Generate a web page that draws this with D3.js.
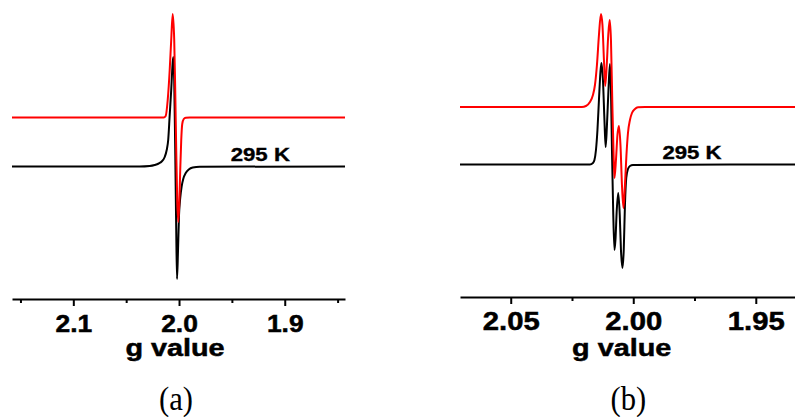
<!DOCTYPE html>
<html><head><meta charset="utf-8">
<script src="https://cdn.jsdelivr.net/npm/d3@7"></script>
<style>html,body{margin:0;padding:0;background:#fff;} svg{display:block;background:#fff;}</style>
</head><body>
<svg id="chart" width="795" height="417"></svg>
<script>
// ---------- Panel (a): g value vs first-derivative EPR intensity (a.u.) ----------
const gBlackA = [2.158, 2.03725, 2.02777, 2.02303, 2.01924, 2.01640, 2.01355, 2.01166, 2.01024, 2.00882, 2.00739, 2.00645, 2.00550, 2.00455, 2.00360, 2.00265, 2.00190, 2.00095, 2.00000, 1.99886, 1.99744, 1.99602, 1.99365, 1.99081, 1.98701, 1.98038, 1.843];
const iBlackA = [0, 0, 0.5, 1.5, 3, 5, 9.5, 16.5, 26.5, 51.5, 76.5, 96.5, 109.5, 86.5, 16.5, -63.5, -112.5, -83.5, -48.5, -31.5, -19.5, -12.5, -6.5, -3, -1, -0.2, 0];
const gRedA = [2.158, 2.01450, 2.01261, 2.01071, 2.00882, 2.00739, 2.00597, 2.00455, 2.00360, 2.00265, 2.00171, 2.00076, 1.99981, 1.99886, 1.99791, 1.99697, 1.99555, 1.99365, 1.98986, 1.843];
const iRedA = [0, 0, 1.5, 17.5, 47.5, 77.5, 103.5, 77.5, 27.5, -32.5, -82.5, -104.5, -87.5, -52.5, -22.5, -6.5, -1.5, -0.2, 0, 0];
const redOffsetA = 49;
const majorTicksA = [2.1, 2.0, 1.9];
const minorTicksA = [2.15, 2.05, 1.95, 1.85];

// ---------- Panel (b) ----------
const gBlackB = [2.0707, 2.01767, 2.01645, 2.01584, 2.01522, 2.01461, 2.01400, 2.01339, 2.01298, 2.01237, 2.01176, 2.01127, 2.01073, 2.01012, 2.00951, 2.00910, 2.00869, 2.00820, 2.00767, 2.00727, 2.00673, 2.00612, 2.00551, 2.00502, 2.00441, 2.00388, 2.00339, 2.00286, 2.00216, 2.00135, 2.00012, 1.934];
const iBlackB = [0, 0, 1.5, 4.5, 14.5, 34.5, 64.5, 92.5, 101.5, 84.5, 44.5, 17.5, 39.5, 74.5, 100.5, 74.5, 14.5, -45.5, -85.5, -75.5, -45.5, -28.5, -50.5, -85.5, -103.5, -85.5, -40.5, -13.5, -4.5, -1.5, -0.5, 0];
const gRedB = [2.0707, 2.02094, 2.01931, 2.01767, 2.01645, 2.01563, 2.01482, 2.01400, 2.01318, 2.01257, 2.01196, 2.01143, 2.01082, 2.01020, 2.00963, 2.00910, 2.00857, 2.00808, 2.00767, 2.00706, 2.00645, 2.00584, 2.00522, 2.00461, 2.00400, 2.00339, 2.00278, 2.00216, 2.00135, 2.00053, 1.99931, 1.99808, 1.99522, 1.934];
const iRedB = [0, 0, 1, 5, 12, 22, 42, 72, 93, 82, 47, 21, 42, 72, 87, 67, 7, -43, -71, -53, -28, -19, -38, -78, -101, -78, -48, -26, -13, -6, -2, -0.3, 0, 0];
const redOffsetB = 57.5;
const majorTicksB = [2.05, 2.00, 1.95];
const minorTicksB = [2.075, 2.025, 1.975, 1.925];

const tempLabel = "295 K";
const xTitle = "g value";

const SANS = "Arial, 'Liberation Sans', Helvetica, sans-serif";
const SERIF = "'Times New Roman', 'Liberation Serif', Times, serif";

const svg = d3.select("#chart");

function boldText(sel) {
  return sel.style("font-family", SANS).style("font-weight", "bold")
    .attr("fill", "#000").attr("stroke", "#000").attr("stroke-width", 0.5);
}

function drawPanel(cfg) {
  const g = svg.append("g");
  const x = d3.scaleLinear().domain(cfg.gDomain).range(cfg.xRange);
  const y = d3.scaleLinear().domain(cfg.iDomain).range([cfg.axisY, 0]);

  const line = d3.line().x(d => x(d[0])).y(d => y(d[1])).curve(d3.curveMonotoneX);

  const black = cfg.gBlack.map((v, i) => [v, cfg.iBlack[i]]);
  const red = cfg.gRed.map((v, i) => [v, cfg.iRed[i] + cfg.redOffset]);

  g.append("path").datum(black).attr("d", line)
    .attr("fill", "none").attr("stroke", "#000").attr("stroke-width", 2).attr("stroke-linejoin", "round");
  g.append("path").datum(red).attr("d", line)
    .attr("fill", "none").attr("stroke", "#ff0000").attr("stroke-width", 2).attr("stroke-linejoin", "round");

  // minor ticks
  const minor = g.append("g").attr("transform", `translate(0,${cfg.axisY})`)
    .call(d3.axisBottom(x).tickValues(cfg.minorTicks.filter(t => t <= cfg.gDomain[0] && t >= cfg.gDomain[1]))
      .tickSize(4).tickSizeOuter(0).tickFormat(""));
  minor.select(".domain").remove();
  minor.selectAll("line").attr("stroke-width", 2);

  const major = g.append("g").attr("transform", `translate(0,${cfg.axisY})`)
    .call(d3.axisBottom(x).tickValues(cfg.majorTicks).tickSize(7).tickSizeOuter(0)
      .tickFormat(d3.format(cfg.fmt)));
  major.select(".domain").attr("stroke-width", 2.2);
  major.selectAll("line").attr("stroke-width", 2);
  boldText(major.selectAll("text")
    .attr("y", 33).attr("dy", null)
    .attr("transform", `scale(${cfg.tickScale},1)`))
    .style("font-size", cfg.tickFont + "px");

  boldText(g.append("text").text(xTitle)
    .attr("transform", `translate(${cfg.titleX},356) scale(1.2,1)`)
    .attr("text-anchor", "middle"))
    .style("font-size", "24px");

  boldText(g.append("text").text(tempLabel)
    .attr("transform", `translate(${cfg.tempX},${cfg.tempY}) scale(1.2,1)`)
    .attr("text-anchor", "middle"))
    .attr("stroke-width", 0.35)
    .style("font-size", "18.5px");

  g.append("text").text(cfg.caption)
    .attr("transform", `translate(${cfg.capX},410) scale(0.9,1)`)
    .attr("text-anchor", "middle")
    .style("font-family", SERIF)
    .style("font-size", "34px");
}

drawPanel({
  gDomain: [2.158, 1.843], xRange: [12, 345], axisY: 299, iDomain: [-132.5, 166.5],
  gBlack: gBlackA, iBlack: iBlackA, gRed: gRedA, iRed: iRedA, redOffset: redOffsetA,
  majorTicks: majorTicksA, minorTicks: minorTicksA, fmt: ".1f", tickScale: 1.1, tickFont: 24,
  titleX: 175, tempX: 260.3, tempY: 161, caption: "(a)", capX: 176
});
drawPanel({
  gDomain: [2.0707, 1.934], xRange: [460, 795], axisY: 297, iDomain: [-132.5, 164.5],
  gBlack: gBlackB, iBlack: iBlackB, gRed: gRedB, iRed: iRedB, redOffset: redOffsetB,
  majorTicks: majorTicksB, minorTicks: minorTicksB, fmt: ".2f", tickScale: 1.17, tickFont: 25,
  titleX: 621.7, tempX: 692, tempY: 159, caption: "(b)", capX: 628.3
});
</script>
</body></html>
